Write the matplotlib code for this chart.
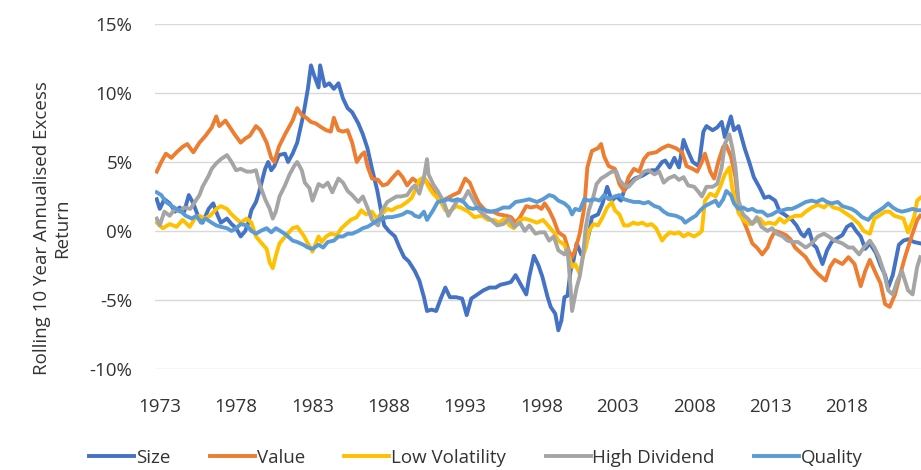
import matplotlib
matplotlib.use("Agg")
import matplotlib.pyplot as plt
from matplotlib.ticker import FuncFormatter

plt.rcParams['font.family'] = ['Open Sans', 'DejaVu Sans']

# values (year, rolling 10y annualised excess return in %)
size_years = [1972.8, 1973.0, 1973.3, 1973.65, 1974.0, 1974.3, 1974.6, 1974.9, 1975.2, 1975.5,
              1975.8, 1976.2, 1976.5, 1976.8, 1977.0, 1977.4, 1977.7, 1978.0, 1978.3, 1978.6,
              1978.8, 1979.0, 1979.3, 1979.5, 1979.9, 1980.1, 1980.3, 1980.5, 1980.8, 1981.2,
              1981.4, 1981.7, 1982.0, 1982.4, 1982.7, 1982.9, 1983.1, 1983.4, 1983.5, 1983.8,
              1984.1, 1984.4, 1984.7, 1985.0, 1985.3, 1985.6, 1986.0, 1986.3, 1986.6, 1986.9,
              1987.25, 1987.5, 1987.7, 1988.0, 1988.4, 1988.7, 1989.0, 1989.3, 1989.7, 1990.0,
              1990.3, 1990.5, 1990.8, 1991.1, 1991.4, 1991.7, 1992.0, 1992.4, 1992.8, 1993.1,
              1993.4, 1993.8, 1994.2, 1994.6, 1995.0, 1995.3, 1995.7, 1996.0, 1996.3, 1996.6,
              1997.0, 1997.2, 1997.5, 1997.8, 1998.05, 1998.4, 1998.6, 1998.9, 1999.1, 1999.3,
              1999.5, 1999.7, 1999.9, 2000.1, 2000.3, 2000.6, 2000.8, 2001.1, 2001.3, 2001.7,
              2002.0, 2002.3, 2002.6, 2002.9, 2003.2, 2003.4, 2003.7, 2004.1, 2004.6, 2004.9,
              2005.2, 2005.5, 2005.9, 2006.1, 2006.4, 2006.7, 2007.0, 2007.3, 2007.5, 2007.9,
              2008.3, 2008.6, 2008.8, 2009.2, 2009.5, 2009.8, 2010.0, 2010.4, 2010.6, 2010.9,
              2011.3, 2011.6, 2011.9, 2012.3, 2012.6, 2012.9, 2013.3, 2013.6, 2013.9, 2014.4,
              2014.7, 2015.0, 2015.2, 2015.5, 2015.8, 2016.0, 2016.4, 2016.7, 2017.0, 2017.4,
              2017.7, 2018.0, 2018.3, 2018.6, 2018.9, 2019.2, 2019.5, 2019.9, 2020.2, 2020.5,
              2020.7, 2021.0, 2021.4, 2021.7, 2022.0, 2022.4, 2022.8]
size_vals = [2.3, 1.6, 2.3, 2.0, 1.4, 1.7, 1.4, 2.6, 2.0, 1.1,
             0.6, 1.6, 2.0, 1.1, 0.6, 0.9, 0.5, 0.2, -0.4, 0.0,
             0.6, 1.5, 2.1, 2.8, 4.5, 5.0, 4.4, 4.7, 5.5, 5.6,
             5.0, 5.6, 6.4, 8.4, 10.3, 12.0, 11.3, 10.4, 12.0, 10.5,
             10.7, 10.3, 10.7, 9.6, 8.9, 8.6, 7.8, 7.0, 6.0, 4.5,
             2.9, 1.4, 0.4, 0.0, -0.4, -1.2, -1.9, -2.2, -2.9, -3.6,
             -4.8, -5.8, -5.7, -5.8, -4.9, -4.1, -4.8, -4.8, -4.9, -6.1,
             -4.9, -4.6, -4.3, -4.1, -4.1, -3.9, -3.8, -3.7, -3.2, -3.8,
             -4.6, -3.3, -1.8, -2.5, -3.3, -4.8, -5.5, -6.0, -7.2, -6.5,
             -4.8, -4.7, -2.9, -2.1, -0.9, -1.7, -1.4, -0.2, 1.0, 1.2,
             2.0, 3.2, 2.2, 2.5, 2.2, 2.9, 3.4, 3.8, 4.0, 4.2,
             4.4, 4.4, 5.0, 5.1, 4.6, 5.3, 4.6, 6.6, 6.0, 5.0,
             4.7, 7.2, 7.6, 7.3, 7.5, 7.9, 6.8, 8.3, 7.3, 7.6,
             6.0, 5.0, 3.9, 3.1, 2.4, 2.5, 2.2, 1.4, 1.2, 0.8,
             0.4, -0.2, -0.4, 0.1, -1.0, -1.2, -2.4, -1.4, -0.8, -0.5,
             -0.3, 0.3, 0.5, 0.0, -0.4, -1.3, -0.9, -1.6, -2.5, -3.2,
             -4.1, -3.2, -1.0, -0.7, -0.6, -0.8, -0.9]

value_years = [1972.8, 1973.1, 1973.4, 1973.76, 1974.1, 1974.5, 1974.8, 1975.2, 1975.6, 1976.0,
               1976.4, 1976.7, 1976.9, 1977.3, 1977.6, 1977.9, 1978.3, 1978.6, 1978.9, 1979.3,
               1979.6, 1980.0, 1980.3, 1980.5, 1980.8, 1981.2, 1981.5, 1981.7, 1982.0, 1982.3,
               1982.6, 1982.9, 1983.2, 1983.6, 1983.9, 1984.2, 1984.4, 1984.7, 1985.0, 1985.3,
               1985.6, 1985.9, 1986.2, 1986.4, 1986.6, 1986.9, 1987.3, 1987.6, 1987.9, 1988.2,
               1988.6, 1988.9, 1989.2, 1989.56, 1989.8, 1990.0, 1990.4, 1990.9, 1991.3, 1991.7,
               1992.2, 1992.6, 1993.0, 1993.3, 1993.6, 1993.9, 1994.4, 1994.8, 1995.2, 1995.7,
               1996.0, 1996.3, 1996.6, 1997.0, 1997.3, 1997.7, 1998.0, 1998.2, 1998.5, 1998.8,
               1999.1, 1999.5, 1999.8, 2000.0, 2000.2, 2000.5, 2000.8, 2001.0, 2001.3, 2001.7,
               2001.9, 2002.1, 2002.4, 2002.8, 2003.1, 2003.4, 2003.7, 2004.05, 2004.4, 2004.7,
               2005.0, 2005.5, 2005.9, 2006.3, 2006.8, 2007.2, 2007.5, 2007.9, 2008.2, 2008.5,
               2008.7, 2009.05, 2009.3, 2009.6, 2009.9, 2010.1, 2010.4, 2010.7, 2010.9, 2011.2,
               2011.5, 2011.8, 2012.1, 2012.45, 2012.8, 2013.0, 2013.3, 2013.6, 2014.0, 2014.3,
               2014.6, 2015.0, 2015.3, 2015.7, 2016.1, 2016.6, 2016.9, 2017.2, 2017.7, 2018.1,
               2018.5, 2018.9, 2019.2, 2019.5, 2019.9, 2020.2, 2020.5, 2020.8, 2021.15, 2021.5,
               2021.8, 2022.2, 2022.6, 2022.8]
value_vals = [4.3, 5.0, 5.6, 5.3, 5.7, 6.1, 6.3, 5.7, 6.4, 6.9,
              7.5, 8.3, 7.6, 8.0, 7.5, 7.0, 6.4, 6.7, 6.9, 7.6,
              7.3, 6.4, 5.3, 5.0, 6.1, 7.0, 7.6, 8.0, 8.9, 8.4,
              8.2, 7.9, 7.8, 7.5, 7.3, 7.2, 8.2, 7.3, 7.2, 7.3,
              6.4, 5.0, 5.5, 5.7, 4.7, 3.8, 3.7, 3.3, 3.4, 3.8,
              4.3, 3.9, 3.3, 3.8, 3.6, 3.3, 3.7, 2.9, 2.2, 2.3,
              2.6, 2.8, 3.8, 3.5, 2.7, 2.0, 1.4, 1.4, 1.2, 1.1,
              1.0, 0.6, 1.0, 1.8, 1.7, 1.8, 1.6, 2.0, 1.5, 0.8,
              -0.1, -0.4, -1.5, -1.9, -1.4, -0.2, 1.7, 4.6, 5.8, 6.0,
              6.3, 5.4, 4.7, 4.5, 3.4, 2.9, 3.9, 4.5, 4.3, 5.2,
              5.6, 5.7, 6.0, 6.2, 6.0, 5.7, 4.7, 4.5, 4.3, 5.0,
              5.6, 4.3, 3.8, 5.1, 6.1, 6.2, 5.4, 3.9, 1.7, 0.8,
              0.0, -0.9, -1.2, -1.7, -1.2, -0.6, 0.0, -0.1, -0.3, -0.6,
              -1.2, -1.6, -1.9, -2.6, -3.1, -3.6, -2.6, -2.1, -2.4, -1.9,
              -2.4, -4.0, -2.9, -2.1, -3.1, -3.8, -5.3, -5.5, -4.6, -3.1,
              -1.9, -0.5, 0.8, 1.1]

lowvol_years = [1972.8, 1973.2, 1973.65, 1974.1, 1974.5, 1974.96, 1975.3, 1975.6, 1975.9, 1976.3,
                1976.7, 1977.0, 1977.4, 1977.7, 1978.0, 1978.3, 1978.7, 1979.0, 1979.3, 1979.6,
                1980.0, 1980.2, 1980.4, 1980.6, 1980.84, 1981.3, 1981.7, 1982.0, 1982.4, 1982.7,
                1983.0, 1983.4, 1983.6, 1983.9, 1984.2, 1984.6, 1984.9, 1985.2, 1985.5, 1985.9,
                1986.2, 1986.5, 1986.9, 1987.2, 1987.5, 1987.9, 1988.2, 1988.5, 1988.8, 1989.2,
                1989.5, 1989.7, 1990.0, 1990.3, 1990.6, 1990.9, 1991.3, 1991.7, 1992.0, 1992.4,
                1992.7, 1993.2, 1993.6, 1994.1, 1994.5, 1994.9, 1995.2, 1995.6, 1995.9, 1996.2,
                1996.6, 1996.9, 1997.2, 1997.7, 1998.1, 1998.5, 1998.8, 1999.1, 1999.5, 1999.8,
                2000.0, 2000.2, 2000.5, 2000.7, 2000.9, 2001.1, 2001.4, 2001.7, 2002.0, 2002.3,
                2002.6, 2002.8, 2003.1, 2003.4, 2003.7, 2004.0, 2004.3, 2004.6, 2004.9, 2005.2,
                2005.5, 2005.9, 2006.1, 2006.4, 2006.7, 2007.0, 2007.3, 2007.6, 2008.0, 2008.3,
                2008.5, 2008.7, 2009.05, 2009.4, 2009.7, 2010.0, 2010.3, 2010.5, 2010.7, 2010.9,
                2011.3, 2011.6, 2011.9, 2012.3, 2012.6, 2012.9, 2013.3, 2013.6, 2013.9, 2014.2,
                2014.6, 2015.0, 2015.3, 2015.7, 2016.1, 2016.5, 2016.8, 2017.1, 2017.5, 2017.9,
                2018.3, 2018.8, 2019.1, 2019.5, 2019.8, 2020.1, 2020.5, 2020.8, 2021.1, 2021.4,
                2021.7, 2022.0, 2022.4, 2022.6, 2022.8]
lowvol_vals = [0.6, 0.2, 0.5, 0.3, 0.8, 0.3, 0.9, 1.1, 0.9, 1.1,
               1.6, 1.8, 1.6, 1.2, 0.9, 0.6, 0.9, 0.6, -0.4, -0.8,
               -1.3, -2.3, -2.7, -1.8, -0.9, -0.3, 0.2, 0.3, -0.3, -0.9,
               -1.5, -0.4, -0.8, -0.4, -0.2, -0.3, 0.2, 0.5, 0.8, 1.0,
               1.5, 1.2, 1.4, 0.9, 1.2, 1.6, 1.5, 1.7, 1.8, 2.1,
               2.4, 2.9, 3.7, 3.9, 3.2, 2.7, 2.3, 1.5, 1.4, 1.8,
               1.7, 1.4, 1.0, 1.1, 0.8, 0.8, 0.6, 0.9, 0.4, 0.2,
               0.8, 0.9, 0.8, 0.6, 0.8, 0.3, -0.1, -0.7, -1.0, -1.9,
               -2.6, -2.4, -3.1, -1.9, -1.2, 0.0, 0.5, 0.4, 1.0, 1.7,
               2.1, 1.5, 1.2, 0.4, 0.4, 0.6, 0.5, 0.6, 0.4, 0.5,
               0.2, -0.7, -0.4, -0.1, -0.2, -0.1, -0.4, -0.2, -0.4, -0.2,
               0.0, 2.2, 2.7, 2.5, 3.2, 4.1, 4.6, 3.0, 2.2, 1.3,
               0.7, 0.5, 0.6, 0.9, 0.5, 0.6, 0.5, 0.9, 0.6, 0.9,
               1.1, 1.1, 1.4, 1.7, 1.9, 1.7, 2.0, 1.7, 1.6, 1.3,
               1.0, 0.5, 0.0, -0.2, 0.9, 1.1, 1.4, 1.4, 1.1, 1.0,
               0.9, -0.1, 1.0, 2.2, 2.4]

highdiv_years = [1972.8, 1973.0, 1973.3, 1973.65, 1974.0, 1974.3, 1974.6, 1975.0, 1975.3, 1975.6,
                 1975.8, 1976.2, 1976.4, 1976.7, 1977.0, 1977.4, 1977.7, 1978.0, 1978.3, 1978.7,
                 1979.0, 1979.3, 1979.5, 1979.9, 1980.2, 1980.4, 1980.6, 1980.84, 1981.2, 1981.5,
                 1981.8, 1982.0, 1982.3, 1982.5, 1982.8, 1983.0, 1983.4, 1983.7, 1984.0, 1984.3,
                 1984.7, 1985.0, 1985.3, 1985.6, 1986.0, 1986.3, 1986.6, 1986.9, 1987.3, 1987.5,
                 1987.9, 1988.2, 1988.5, 1988.8, 1989.2, 1989.5, 1989.7, 1990.0, 1990.3, 1990.5,
                 1990.6, 1990.9, 1991.2, 1991.6, 1991.9, 1992.2, 1992.5, 1992.9, 1993.2, 1993.5,
                 1993.9, 1994.3, 1994.7, 1995.1, 1995.5, 1995.9, 1996.2, 1996.6, 1996.9, 1997.2,
                 1997.6, 1997.9, 1998.2, 1998.5, 1998.8, 1999.1, 1999.5, 1999.7, 1999.9, 2000.0,
                 2000.3, 2000.5, 2000.7, 2000.9, 2001.1, 2001.4, 2001.6, 2001.9, 2002.2, 2002.6,
                 2002.9, 2003.1, 2003.4, 2003.7, 2004.1, 2004.4, 2004.7, 2005.0, 2005.4, 2005.7,
                 2006.0, 2006.3, 2006.7, 2007.0, 2007.3, 2007.6, 2008.0, 2008.3, 2008.5, 2008.8,
                 2009.2, 2009.5, 2009.8, 2010.0, 2010.3, 2010.5, 2010.7, 2010.9, 2011.2, 2011.5,
                 2011.8, 2012.1, 2012.4, 2012.8, 2013.1, 2013.4, 2013.8, 2014.1, 2014.5, 2014.8,
                 2015.3, 2015.7, 2016.1, 2016.5, 2016.8, 2017.2, 2017.7, 2018.1, 2018.4, 2018.8,
                 2019.1, 2019.5, 2019.8, 2020.1, 2020.4, 2020.7, 2021.0, 2021.3, 2021.6, 2022.0,
                 2022.3, 2022.6, 2022.8]
highdiv_vals = [0.9, 0.4, 1.4, 1.1, 1.6, 1.4, 1.7, 1.6, 2.1, 2.6,
                3.2, 4.0, 4.5, 4.9, 5.2, 5.5, 5.0, 4.4, 4.5, 4.3,
                4.3, 4.4, 3.5, 2.3, 1.6, 0.9, 1.4, 2.5, 3.3, 4.1,
                4.7, 5.0, 4.4, 3.5, 3.1, 2.2, 3.4, 3.2, 3.5, 2.8,
                3.8, 3.5, 2.9, 2.6, 2.1, 2.5, 1.7, 0.8, 0.4, 1.4,
                2.1, 2.3, 2.5, 2.5, 2.6, 3.1, 3.3, 2.7, 3.9, 5.2,
                4.1, 3.4, 2.9, 2.1, 1.1, 1.7, 2.2, 2.3, 2.9, 2.3,
                1.5, 1.1, 0.8, 0.4, 0.5, 0.9, 0.3, 0.6, 0.0, 0.4,
                -0.2, -0.1, -0.1, -0.7, -0.4, -1.4, -1.7, -1.3, -4.1, -5.8,
                -4.1, -3.3, -1.9, 0.3, 1.5, 2.5, 3.4, 3.8, 4.0, 4.3,
                4.3, 3.7, 3.3, 3.2, 3.7, 3.9, 4.3, 4.4, 4.1, 4.3,
                3.5, 3.8, 4.0, 3.7, 3.9, 3.3, 3.2, 2.8, 2.5, 3.2,
                3.2, 3.4, 4.6, 6.3, 7.0, 6.0, 4.6, 2.2, 1.2, 0.9,
                0.5, 1.0, 0.3, 0.0, 0.2, -0.2, -0.4, -0.7, -0.8, -0.8,
                -1.2, -0.9, -0.4, -0.2, -0.4, -0.7, -0.9, -1.2, -1.2, -1.7,
                -1.2, -0.7, -1.2, -1.9, -2.9, -4.3, -4.6, -3.6, -2.9, -4.3,
                -4.6, -2.6, -1.9]

quality_years = [1972.8, 1973.1, 1973.4, 1973.8, 1974.1, 1974.4, 1974.7, 1975.1, 1975.4, 1975.7,
                 1976.0, 1976.4, 1976.7, 1977.0, 1977.4, 1977.7, 1978.0, 1978.3, 1978.7, 1979.0,
                 1979.3, 1979.6, 1980.0, 1980.3, 1980.6, 1980.9, 1981.3, 1981.7, 1982.0, 1982.4,
                 1982.7, 1983.0, 1983.4, 1983.7, 1984.0, 1984.4, 1984.7, 1985.0, 1985.3, 1985.6,
                 1986.0, 1986.3, 1986.6, 1986.9, 1987.3, 1987.6, 1987.9, 1988.2, 1988.6, 1988.9,
                 1989.2, 1989.5, 1989.7, 1990.0, 1990.3, 1990.5, 1990.9, 1991.2, 1991.6, 1991.9,
                 1992.2, 1992.5, 1992.9, 1993.2, 1993.5, 1993.9, 1994.3, 1994.7, 1995.1, 1995.5,
                 1995.9, 1996.3, 1996.8, 1997.2, 1997.7, 1998.1, 1998.5, 1998.8, 1999.1, 1999.5,
                 1999.8, 2000.0, 2000.2, 2000.5, 2000.8, 2001.1, 2001.5, 2001.8, 2002.1, 2002.4,
                 2002.8, 2003.1, 2003.4, 2003.7, 2004.05, 2004.4, 2004.7, 2005.0, 2005.4, 2005.7,
                 2006.0, 2006.3, 2006.8, 2007.2, 2007.4, 2007.8, 2008.1, 2008.4, 2008.7, 2009.05,
                 2009.4, 2009.6, 2009.9, 2010.1, 2010.4, 2010.6, 2010.9, 2011.2, 2011.5, 2011.8,
                 2012.1, 2012.45, 2012.8, 2013.1, 2013.4, 2013.8, 2014.1, 2014.4, 2014.8, 2015.3,
                 2015.7, 2016.0, 2016.4, 2016.7, 2017.0, 2017.4, 2017.7, 2018.0, 2018.3, 2018.6,
                 2019.0, 2019.4, 2019.7, 2020.0, 2020.4, 2020.7, 2021.0, 2021.3, 2021.6, 2022.0,
                 2022.3, 2022.6, 2022.8]
quality_vals = [2.8, 2.6, 2.1, 1.8, 1.6, 1.4, 1.1, 0.9, 1.1, 0.6,
                0.9, 0.6, 0.4, 0.3, 0.2, 0.0, 0.2, 0.5, 0.4, 0.0,
                -0.2, 0.0, 0.2, -0.1, 0.2, 0.0, -0.3, -0.7, -0.8, -1.0,
                -1.2, -1.3, -1.0, -1.2, -0.8, -0.7, -0.4, -0.4, -0.2, -0.2,
                0.0, 0.2, 0.3, 0.5, 0.8, 0.9, 1.0, 1.0, 1.1, 1.2,
                1.4, 1.3, 1.1, 1.0, 1.4, 0.8, 1.5, 2.1, 2.2, 2.3,
                2.2, 2.3, 2.1, 1.7, 1.6, 1.7, 1.5, 1.4, 1.5, 1.7,
                1.7, 2.1, 2.2, 2.3, 2.1, 2.3, 2.6, 2.5, 2.2, 2.0,
                1.7, 1.2, 1.6, 1.5, 2.3, 2.2, 2.3, 2.2, 2.6, 2.3,
                2.5, 2.6, 2.3, 2.2, 2.1, 2.1, 2.0, 2.1, 1.8, 1.7,
                1.4, 1.2, 1.1, 0.9, 0.6, 0.9, 1.1, 1.5, 1.8, 2.0,
                2.2, 1.8, 2.3, 2.9, 2.6, 2.0, 1.6, 1.7, 1.5, 1.6,
                1.4, 1.4, 1.1, 1.2, 1.4, 1.5, 1.6, 1.6, 1.8, 2.1,
                2.2, 2.1, 2.3, 2.1, 2.0, 2.1, 1.8, 1.7, 1.6, 1.4,
                1.0, 0.8, 1.2, 1.4, 1.7, 2.0, 1.7, 1.5, 1.4, 1.5,
                1.6, 1.5, 1.5]

series_names = ["Size", "Value", "Low Volatility", "High Dividend", "Quality"]
series_colors = ["#4472C4", "#ED7D31", "#FFC000", "#A5A5A5", "#5B9BD5"]
tick_years = [1973, 1978, 1983, 1988, 1993, 1998, 2003, 2008, 2013, 2018]
y_ticks = [-10, -5, 0, 5, 10, 15]

fig = plt.figure(figsize=(9.21, 4.70), dpi=100)
ax = fig.add_axes([0.168, 0.215, 0.832, 0.734])

all_series = [(size_years, size_vals), (value_years, value_vals), (lowvol_years, lowvol_vals),
              (highdiv_years, highdiv_vals), (quality_years, quality_vals)]
for (xs, ys), name, col in zip(all_series, series_names, series_colors):
    ax.plot(xs, ys, color=col, linewidth=2.8, label=name, solid_joinstyle='round')

ax.set_xlim(1972.67, 2022.85)
ax.set_ylim(-10, 15)
ax.set_yticks(y_ticks)
ax.yaxis.set_major_formatter(FuncFormatter(lambda v, p: f"{v:.0f}%"))
ax.set_xticks(tick_years)
ax.grid(axis='y', color='#D9D9D9', linewidth=1.0)
ax.set_axisbelow(True)
for s in ax.spines.values():
    s.set_visible(False)
ax.tick_params(length=0, labelsize=13.5, colors='#333333')
ax.tick_params(axis='y', pad=16)
ax.tick_params(axis='x', pad=21)

fig.text(0.057, 0.515, "Rolling 10 Year Annualised Excess\nReturn", rotation=90,
         ha='center', va='center', fontsize=13.5, color='#333333', linespacing=1.15)

fig.legend(loc='center', bbox_to_anchor=(0.517, 0.026), ncol=5, frameon=False,
           fontsize=13.5, handlelength=2.4, columnspacing=2.1, handletextpad=0.1,
           labelcolor='#333333')

fig.savefig("out.png", dpi=100)
